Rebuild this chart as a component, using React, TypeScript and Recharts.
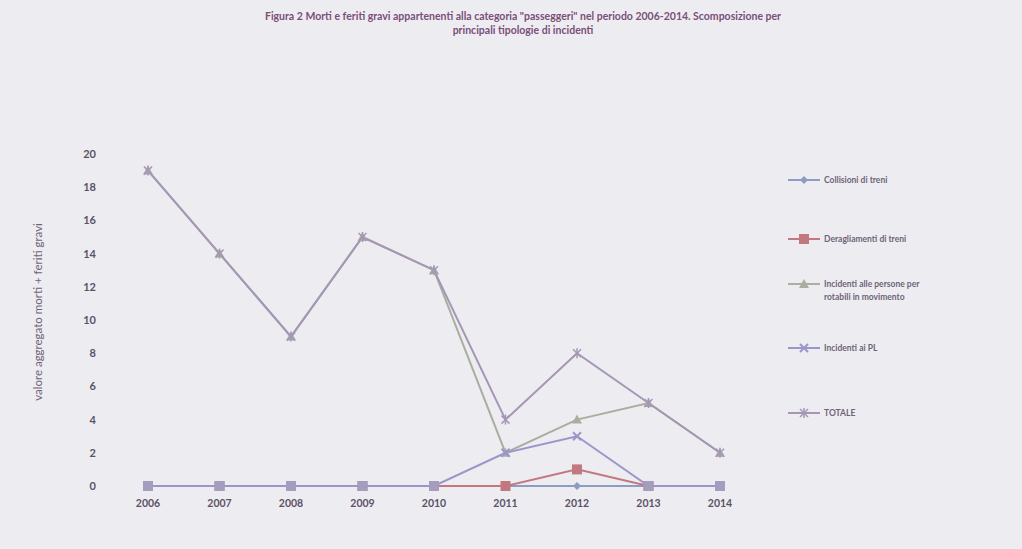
import { LineChart, Line, XAxis, YAxis } from "recharts";

const years = ["2006", "2007", "2008", "2009", "2010", "2011", "2012", "2013", "2014"];
const collisioni = [0, 0, 0, 0, 0, 0, 0, 0, 0];
const deragliamenti = [0, 0, 0, 0, 0, 0, 1, 0, 0];
const persone = [19, 14, 9, 15, 13, 2, 4, 5, 2];
const passaggiLivello = [0, 0, 0, 0, 0, 2, 3, 0, 0];
const totale = [19, 14, 9, 15, 13, 4, 8, 5, 2];
const yTicks = [0, 2, 4, 6, 8, 10, 12, 14, 16, 18, 20];

const rows = years.map((y, i) => ({
  year: y,
  collisioni: collisioni[i],
  deragliamenti: deragliamenti[i],
  persone: persone[i],
  pl: passaggiLivello[i],
  totale: totale[i],
}));

const FONT = "Lato, 'DejaVu Sans', sans-serif";

type Shape = "diamond" | "square" | "triangle" | "x" | "star" | "plsq";

function markerPath(shape: Shape, cx: number, cy: number, color: string, value?: number) {
  if (shape === "diamond") {
    return <path d={`M${cx},${cy - 4}L${cx + 4},${cy}L${cx},${cy + 4}L${cx - 4},${cy}Z`} fill={color} />;
  }
  if (shape === "square") {
    return <rect x={cx - 5} y={cy - 5} width={10} height={10} fill={color} />;
  }
  if (shape === "triangle") {
    return <path d={`M${cx},${cy - 5}L${cx + 5},${cy + 4}L${cx - 5},${cy + 4}Z`} fill={color} />;
  }
  if (shape === "plsq") {
    // zero values are drawn as the wide purple squares seen along the baseline
    if (value === 0) return <rect x={cx - 5} y={cy - 5} width={10} height={10} fill="#a59dbd" />;
    return (
      <g stroke={color} strokeWidth={2}>
        <line x1={cx - 4} y1={cy - 4} x2={cx + 4} y2={cy + 4} />
        <line x1={cx - 4} y1={cy + 4} x2={cx + 4} y2={cy - 4} />
      </g>
    );
  }
  if (shape === "x") {
    return (
      <g stroke={color} strokeWidth={2}>
        <line x1={cx - 4} y1={cy - 4} x2={cx + 4} y2={cy + 4} />
        <line x1={cx - 4} y1={cy + 4} x2={cx + 4} y2={cy - 4} />
      </g>
    );
  }
  return (
    <g stroke={color} strokeWidth={1.5}>
      <line x1={cx - 4} y1={cy - 4} x2={cx + 4} y2={cy + 4} />
      <line x1={cx - 4} y1={cy + 4} x2={cx + 4} y2={cy - 4} />
      <line x1={cx} y1={cy - 5} x2={cx} y2={cy + 5} />
    </g>
  );
}

const series: { key: string; name: string; color: string; shape: Shape }[] = [
  { key: "collisioni", name: "Collisioni di treni", color: "#8e9cc2", shape: "diamond" },
  { key: "deragliamenti", name: "Deragliamenti di treni", color: "#c2787f", shape: "square" },
  { key: "persone", name: "Incidenti alle persone per\nrotabili in movimento", color: "#a9ae9f", shape: "triangle" },
  { key: "pl", name: "Incidenti ai PL", color: "#9a96cc", shape: "plsq" },
  { key: "totale", name: "TOTALE", color: "#a696b6", shape: "star" },
];

const legendGaps = [0, 46, 32, 38, 52];

function LegendBox() {
  return (
    <div style={{ fontFamily: FONT, fontSize: 8.5, fontWeight: 700, color: "#6e6478" }}>
      {series.map((s, i) => {
        const lines = s.name.split("\n");
        return (
          <div key={s.key} style={{ display: "flex", alignItems: "flex-start", marginTop: legendGaps[i] }}>
            <svg width={34} height={12} style={{ flex: "none" }}>
              <line x1={0} y1={6} x2={32} y2={6} stroke={s.color} strokeWidth={2} />
              {markerPath(s.shape === "plsq" ? "x" : s.shape, 16, 6, s.color)}
            </svg>
            <div style={{ lineHeight: "13px", marginLeft: 2 }}>
              {lines.map((l) => (
                <div key={l}>{l}</div>
              ))}
            </div>
          </div>
        );
      })}
    </div>
  );
}

export default function App() {
  return (
    <div style={{ position: "absolute", left: 0, top: 0, width: 1022, height: 549, background: "#edecf1", overflow: "hidden" }}>
      <div
        style={{
          position: "absolute",
          left: 0,
          top: 9,
          width: 1046,
          textAlign: "center",
          fontFamily: FONT,
          fontSize: 10.5,
          fontWeight: 700,
          color: "#7a4f78",
          lineHeight: "14px",
        }}
      >
        <div>Figura 2 Morti e  feriti gravi appartenenti alla categoria "passeggeri" nel periodo 2006-2014. Scomposizione per</div>
        <div>principali tipologie di incidenti</div>
      </div>
      <div style={{ position: "absolute", left: 0, top: 0 }}>
        <LineChart width={1022} height={549} data={rows} margin={{ top: 154, right: 266, bottom: 33, left: 52 }}>
          <XAxis
            dataKey="year"
            axisLine={false}
            tickLine={false}
            tickSize={0}
            tickMargin={14}
            height={30}
            padding={{ left: 36, right: 36 }}
            tick={{ fontFamily: FONT, fontSize: 10.5, fontWeight: 700, fill: "#5c5266" }}
          />
          <YAxis
            domain={[0, 20]}
            ticks={yTicks}
            axisLine={false}
            tickLine={false}
            tickSize={0}
            tickMargin={16}
            width={60}
            tick={{ fontFamily: FONT, fontSize: 11, fontWeight: 700, fill: "#5c5266" }}
            label={{
              value: "valore aggregato morti + feriti gravi",
              angle: -90,
              position: "insideLeft",
              offset: -14,
              dy: -8,
              style: { fontFamily: FONT, fontSize: 11.5, fill: "#6e6478", textAnchor: "middle" },
            }}
          />
          {series.map((s) => (
            <Line
              key={s.key}
              dataKey={s.key}
              name={s.name}
              stroke={s.color}
              strokeWidth={2}
              isAnimationActive={false}
              dot={(p: any) => <g key={`${s.key}-${p.index}`}>{markerPath(s.shape, p.cx, p.cy, s.color, p.value)}</g>}
              activeDot={false}
            />
          ))}
        </LineChart>
      </div>
      <div style={{ position: "absolute", left: 788, top: 174, width: 220 }}>
        <LegendBox />
      </div>
    </div>
  );
}
